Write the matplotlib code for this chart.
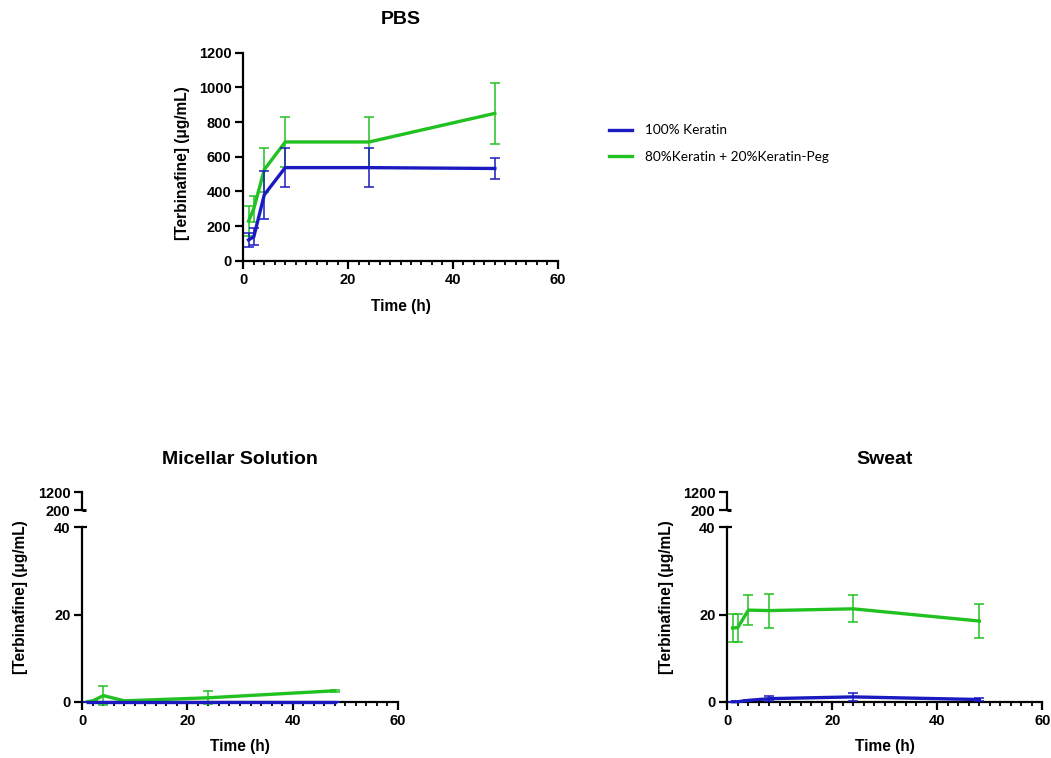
import matplotlib
matplotlib.use("Agg")
import matplotlib.pyplot as plt
from matplotlib.lines import Line2D
from matplotlib.ticker import MultipleLocator

plt.rcParams['font.family'] = ['Liberation Sans', 'DejaVu Sans']

# ---------------- data ----------------
time_h = [1, 2, 4, 8, 24, 48]

labels = ["100% Keratin", "80%Keratin + 20%Keratin-Peg"]

# PBS
pbs_ker_mean = [120, 138, 380, 537, 537, 532]
pbs_ker_err = [40, 50, 137, 112, 112, 60]
pbs_peg_mean = [228, 300, 525, 685, 685, 850]
pbs_peg_err = [85, 75, 128, 142, 142, 177]

# Micellar solution
mic_ker_mean = [0.0, 0.0, 0.0, 0.0, 0.0, 0.0]
mic_ker_err = [0.0, 0.0, 0.0, 0.0, 0.0, 0.0]
mic_peg_mean = [0.0, 0.2, 1.4, 0.2, 0.9, 2.5]
mic_peg_err = [0.0, 0.0, 2.2, 0.0, 1.5, 0.2]

# Sweat
swt_ker_mean = [0.0, 0.0, 0.3, 0.7, 1.1, 0.5]
swt_ker_err = [0.0, 0.0, 0.0, 0.5, 0.9, 0.4]
swt_peg_mean = [16.9, 17.0, 21.0, 20.9, 21.3, 18.5]
swt_peg_err = [3.2, 3.2, 3.4, 3.9, 3.1, 3.8]

ytick_pbs = [0, 200, 400, 600, 800, 1000, 1200]
ytick_low = [0, 20, 40]
ytick_up = [200, 1200]
xtick = [0, 20, 40, 60]

c_blue = '#1a1ac0'
c_green = '#22c122'

W, H = 1051, 758
fig = plt.figure(figsize=(W / 100, H / 100), dpi=100)


def fx(px):
    return px / W


def fy(py):
    return 1 - py / H


tick_fs = 10.5
label_fs = 11.2
title_fs = 14

YLABEL = "[Terbinafine] (μg/mL)"


def style_axis(ax, ylim, yticks):
    ax.set_xlim(0, 60)
    ax.set_ylim(*ylim)
    ax.set_xticks(xtick)
    ax.set_yticks(yticks)
    ax.xaxis.set_minor_locator(MultipleLocator(2))
    for s in ['top', 'right']:
        ax.spines[s].set_visible(False)
    for s in ['left', 'bottom']:
        ax.spines[s].set_linewidth(1.6)
    ax.tick_params(axis='both', which='major', length=6, width=1.6,
                   labelsize=tick_fs, pad=2.5)
    ax.tick_params(axis='x', which='minor', length=3.2, width=1.3)
    for t in ax.get_xticklabels() + ax.get_yticklabels():
        t.set_fontweight('bold')


def plot_series(ax, m1, e1, m2, e2):
    ax.errorbar(time_h, m2, yerr=e2, color=c_green, lw=2.4, elinewidth=1.1,
                capsize=3.5, capthick=1.1, clip_on=False, zorder=3)
    ax.errorbar(time_h, m1, yerr=e1, color=c_blue, lw=2.4, elinewidth=1.1,
                capsize=3.5, capthick=1.1, clip_on=False, zorder=4)


def xlabel_at(x0, x1, py):
    fig.text(fx((x0 + x1) / 2), fy(py), "Time (h)", ha='center', va='center',
             fontsize=label_fs, fontweight='bold')


# ---------------- PBS ----------------
ax1 = fig.add_axes([fx(243.3), fy(260.7), fx(557.7 - 243.3), (260.7 - 52.7) / H])
plot_series(ax1, pbs_ker_mean, pbs_ker_err, pbs_peg_mean, pbs_peg_err)
style_axis(ax1, (0, 1200), ytick_pbs)
fig.text(fx(400.5), fy(19), "PBS", ha='center', va='center',
         fontsize=title_fs, fontweight='bold')
xlabel_at(243.3, 557.7, 307)
fig.text(fx(182), fy(163), YLABEL, rotation=90,
         ha='center', va='center', fontsize=label_fs, fontweight='bold')


def broken_panel(x0, x1, title, m1, e1, m2, e2, ylabel_x):
    y0, y40 = 701.7, 527.3
    y200, y1200 = 510.3, 492.3
    ax = fig.add_axes([fx(x0), fy(y0), fx(x1 - x0), (y0 - y40) / H])
    plot_series(ax, m1, e1, m2, e2)
    style_axis(ax, (0, 40), ytick_low)
    # break marker at top of lower axis
    ax.plot([0, 0.014], [1, 1], transform=ax.transAxes, color='black',
            lw=1.6, clip_on=False, solid_capstyle='butt')
    axu = fig.add_axes([fx(x0), fy(y200), fx(x1 - x0), (y200 - y1200) / H])
    axu.set_ylim(200, 1200)
    axu.set_yticks(ytick_up)
    axu.set_xticks([])
    for s in ['top', 'right', 'bottom']:
        axu.spines[s].set_visible(False)
    axu.spines['left'].set_linewidth(1.6)
    axu.tick_params(axis='y', length=6, width=1.6, labelsize=tick_fs, pad=2.5)
    for t in axu.get_yticklabels():
        t.set_fontweight('bold')
    axu.patch.set_alpha(0)
    axu.plot([0, 0.012], [0, 0], transform=axu.transAxes, color='black',
             lw=2.2, clip_on=False, solid_capstyle='butt')
    fig.text(fx((x0 + x1) / 2), fy(459), title, ha='center', va='center',
             fontsize=title_fs, fontweight='bold')
    xlabel_at(x0, x1, 747)
    fig.text(fx(ylabel_x), fy(597), YLABEL, rotation=90,
             ha='center', va='center', fontsize=label_fs, fontweight='bold')
    return ax


broken_panel(82.3, 397.7, "Micellar Solution", mic_ker_mean, mic_ker_err,
             mic_peg_mean, mic_peg_err, 21)
broken_panel(727.3, 1042.3, "Sweat", swt_ker_mean, swt_ker_err,
             swt_peg_mean, swt_peg_err, 666)

# ---------------- legend ----------------
handles = [Line2D([], [], color=c_blue, lw=2.4),
           Line2D([], [], color=c_green, lw=2.4)]
fig.legend(handles, labels, loc='center left',
           bbox_to_anchor=(fx(597), fy(143.5)), frameon=False,
           prop={'family': 'Lato', 'size': 9.8}, handlelength=1.7,
           handletextpad=0.95, labelspacing=1.05, borderpad=0.4)

fig.savefig("out.png", dpi=100)
